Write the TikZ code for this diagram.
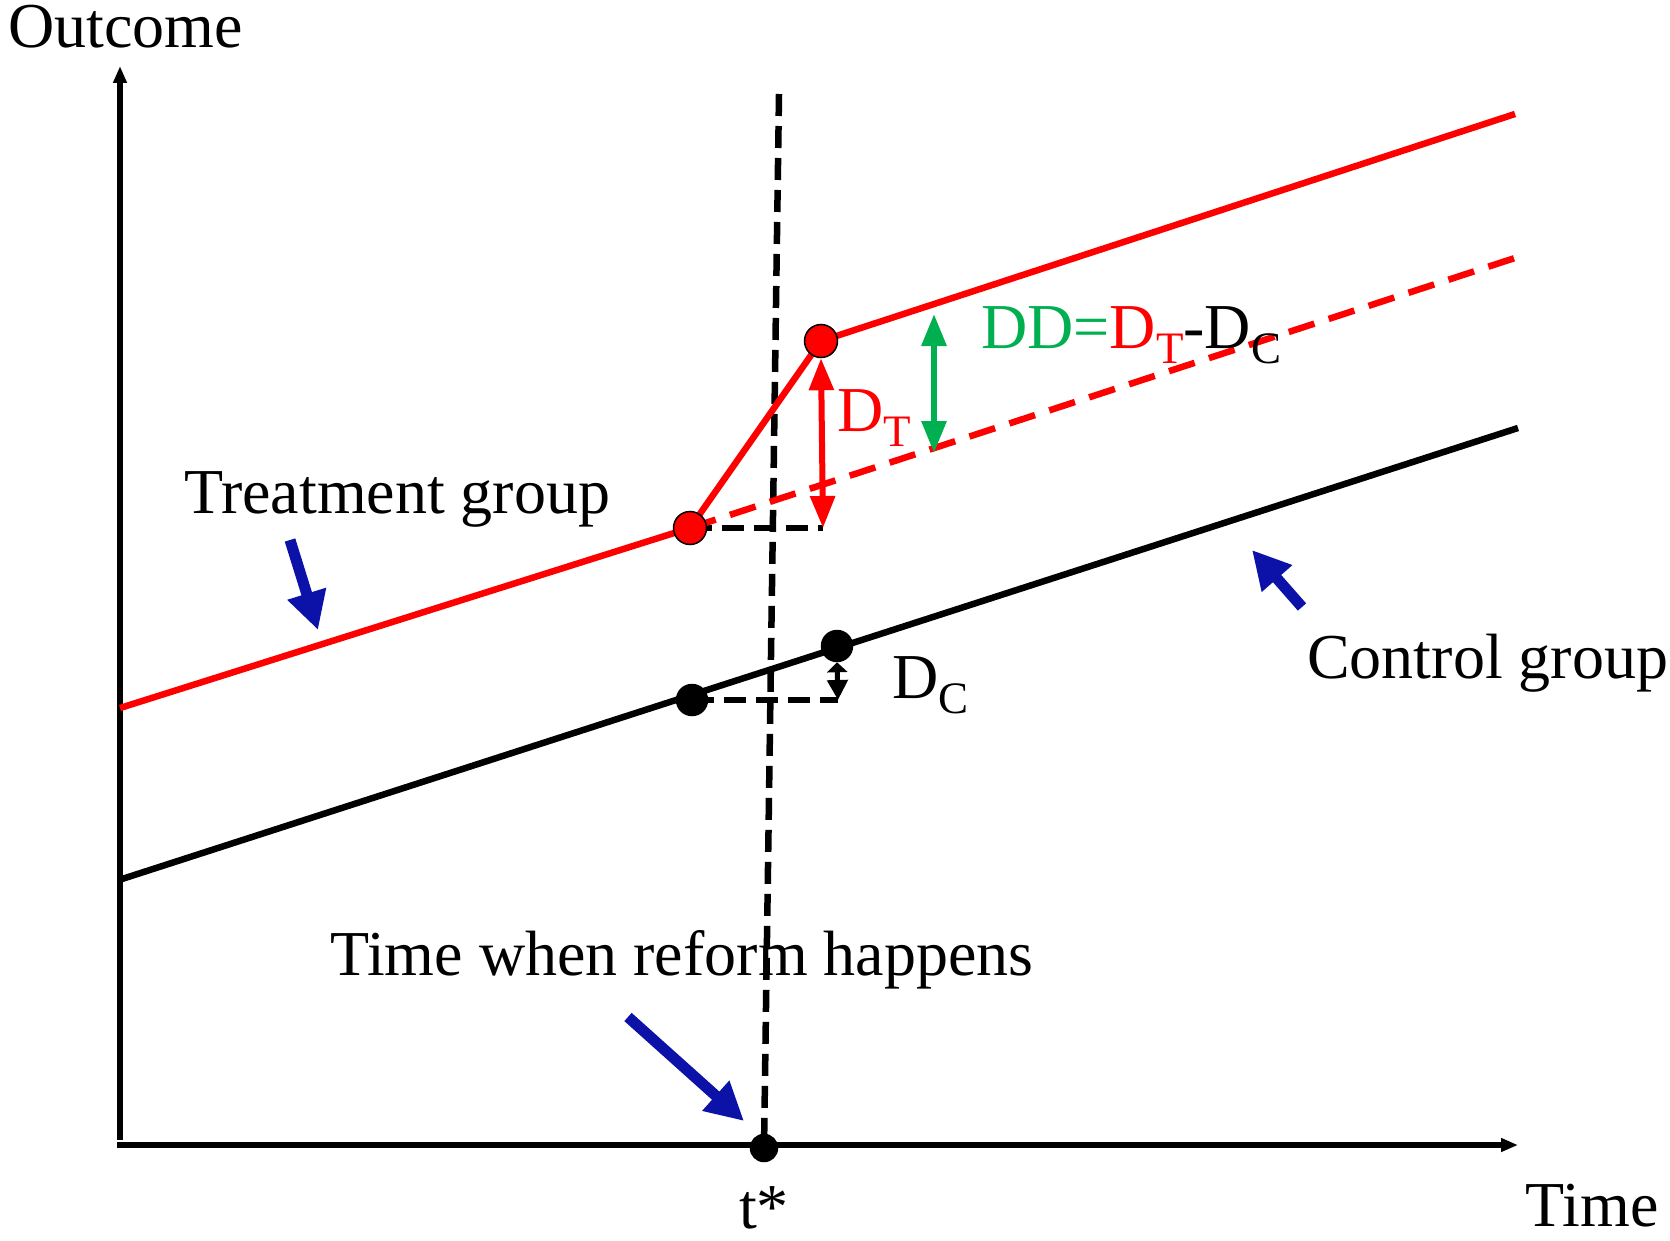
\documentclass[tikz,border=0pt]{standalone}
\usepackage{fontspec}
\setmainfont{Liberation Serif}
\usetikzlibrary{arrows.meta}
\definecolor{pointblue}{RGB}{12,18,168}
\definecolor{ddgreen}{RGB}{0,176,80}
\newcommand\lowsub[1]{\raisebox{-15pt}{\fontsize{45}{45}\selectfont #1}}

\begin{document}
\begin{tikzpicture}
[x=1pt,y=-1pt,line width=6.5pt,
 every node/.style={font=\fontsize{64}{72}\selectfont, inner sep=0pt},
 dot/.style={circle,draw=black,line width=1.5pt,fill=black,minimum size=31pt},
 reddot/.style={dot,fill=red,minimum size=33pt},
 guide/.style={dash pattern=on 22pt off 10pt,line width=6.5pt},
 trend/.style={red,dash pattern=on 27pt off 15pt},
 pointer/.style={pointblue,line width=11pt,-{Triangle[length=38pt,width=38pt]}},
 gap/.style={line width=6pt,{Triangle[length=32pt,width=24pt]}-{Triangle[length=32pt,width=24pt]}},
 axis/.style={line width=6pt,-{Triangle[length=17pt,width=13pt]}}]
\useasboundingbox (0,0) rectangle (1670,1241);
% points of the two groups
\coordinate (ytop) at (120,66);
\coordinate (xend) at (1518,1145);
\coordinate (treat-start) at (120,708);
\coordinate (tk) at (690,528);
\coordinate (tt) at (821,341);
\coordinate (treat-end) at (1515,114);
\coordinate (trend-end) at (1521,256);
\coordinate (ctrl-start) at (122,879);
\coordinate (ctrl-end) at (1518,428);
\coordinate (ck) at (692,700);
\coordinate (ct) at (837,646);
\coordinate (reform-top) at (779,94);
\coordinate (ts) at (764,1148);
\coordinate (tbase) at (823,528);
\coordinate (cbase) at (838,700);
\coordinate (dd-top) at (934,314);
\coordinate (dd-bot) at (934,453);
\coordinate (treat-tail) at (290,540);
\coordinate (treat-tip) at (318,630);
\coordinate (ctrl-tail) at (1302,607);
\coordinate (ctrl-tip) at (1252,550);
\coordinate (reform-tail) at (628,1017);
\coordinate (reform-tip) at (744,1121);

\draw[axis] (120,1140) -- (ytop);
\draw[axis] (117,1145) -- (xend);
\draw[guide] (reform-top) -- (ts);
\draw[guide] (tk) -- (tbase);
\draw[guide] (ck) -- (cbase);
\draw[trend] (tk) -- (trend-end);
\draw[red] (treat-start) -- (tk) -- (tt) -- (treat-end);
\draw (ctrl-start) -- (ctrl-end);

\node[reddot] (tkdot) at (tk) {};
\node[reddot] (ttdot) at (tt) {};
\node[dot] (ckdot) at (ck) {};
\node[dot] (ctdot) at (ct) {};
\node[dot,minimum size=27pt] (tsdot) at (ts) {};

\draw[gap,red] (ttdot.south) -- (tbase);
\draw[gap,ddgreen] (dd-top) -- (dd-bot);
\draw[line width=5pt,{Triangle[length=10pt,width=20pt]}-{Triangle[length=20pt,width=20pt]}] (ctdot.south) -- (cbase);
\foreach \s in {treat,ctrl,reform}
  \draw[pointer] (\s-tail) -- (\s-tip);

\node[anchor=base west] (outcome) at (5,48) {Outcome};
\node[anchor=base east] (timelbl) at (1662,1226) {Time};
\node[anchor=base] (tstar) at (ts |- 0,1228) {t*};
\node[anchor=base west] (treatlbl) at (181,513) {Treatment group};
\node[anchor=base west] (ctrllbl) at (1304,678) {Control group};
\node[anchor=base west] (reformlbl) at (327,975) {Time when reform happens};
\node[anchor=base west,red] (dtlbl) at (834,431) {D\lowsub{T}};
\node[anchor=base west] (dclbl) at (889,698) {D\lowsub{C}};
\node[anchor=base west] (ddlbl) at (978,348)
  {\textcolor{ddgreen}{DD=}\textcolor{red}{D\lowsub{T}}-D\lowsub{C}};
\end{tikzpicture}
\end{document}
